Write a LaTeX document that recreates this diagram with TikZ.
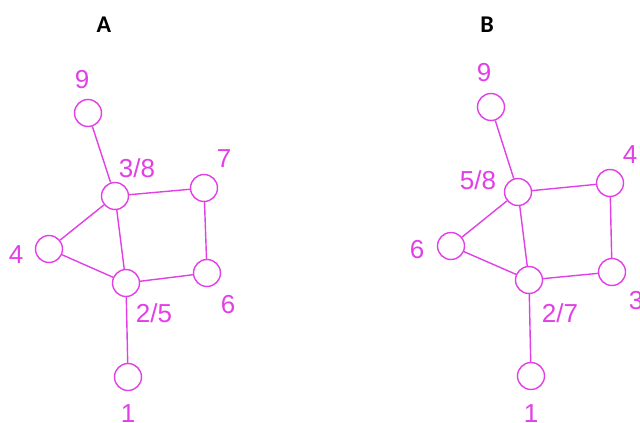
\documentclass[tikz,border=0pt]{standalone}
\usepackage{fontspec}
\setmainfont{Liberation Sans}
\newfontfamily\titlefont{Carlito}
\definecolor{mag}{RGB}{226,64,230}
\tikzset{
  vtx/.style={circle, draw=mag, line width=1.4pt, minimum size=27pt, inner sep=0pt, fill=white},
  edge/.style={draw=mag, line width=1.4pt},
  lbl/.style={text=mag, font=\fontsize{26}{26}\selectfont, inner sep=0pt, anchor=center},
  ttl/.style={text=black, font=\titlefont\bfseries\fontsize{24}{24}\selectfont, inner sep=0pt}
}
\begin{document}
\begin{tikzpicture}[x=1pt,y=-1pt]
\useasboundingbox (0,0) rectangle (640,423);
\fill[white] (0,0) rectangle (640,423);
% titles
\node[ttl] (tA) at (104,25) {A};
\node[ttl] (tB) at (487,25) {B};
% graph A
\node[vtx] (a9) at (88,113) {};
\node[vtx] (a38) at (115,196) {};
\node[vtx] (a7) at (204,188) {};
\node[vtx] (a4) at (49,249) {};
\node[vtx] (a25) at (126,283) {};
\node[vtx] (a6) at (207,273) {};
\node[vtx] (a1) at (128,377) {};
\draw[edge] (a9) -- (a38);
\draw[edge] (a38) -- (a7);
\draw[edge] (a38) -- (a4);
\draw[edge] (a38) -- (a25);
\draw[edge] (a4) -- (a25);
\draw[edge] (a7) -- (a6);
\draw[edge] (a25) -- (a6);
\draw[edge] (a25) -- (a1);
\node[lbl] (la9) at (82,80) {9};
\node[lbl] (la38) at (137,168) {3/8};
\node[lbl] (la7) at (224,159) {7};
\node[lbl] (la4) at (16,255) {4};
\node[lbl] (la25) at (154,313) {2/5};
\node[lbl] (la6) at (228,305) {6};
\node[lbl] (la1) at (128,414) {1};
% graph B
\node[vtx] (b9) at (491,107) {};
\node[vtx] (b58) at (518,192) {};
\node[vtx] (b4) at (610,183) {};
\node[vtx] (b6) at (451,246) {};
\node[vtx] (b27) at (529,280) {};
\node[vtx] (b3) at (612,272) {};
\node[vtx] (b1) at (531,376) {};
\draw[edge] (b9) -- (b58);
\draw[edge] (b58) -- (b4);
\draw[edge] (b58) -- (b6);
\draw[edge] (b58) -- (b27);
\draw[edge] (b6) -- (b27);
\draw[edge] (b4) -- (b3);
\draw[edge] (b27) -- (b3);
\draw[edge] (b27) -- (b1);
\node[lbl] (lb9) at (484,73) {9};
\node[lbl] (lb58) at (478,180) {5/8};
\node[lbl] (lb4) at (630,155) {4};
\node[lbl] (lb6) at (417,250) {6};
\node[lbl] (lb27) at (560,313) {2/7};
\node[lbl] (lb3) at (636,301) {3};
\node[lbl] (lb1) at (531,414) {1};
\end{tikzpicture}
\end{document}
